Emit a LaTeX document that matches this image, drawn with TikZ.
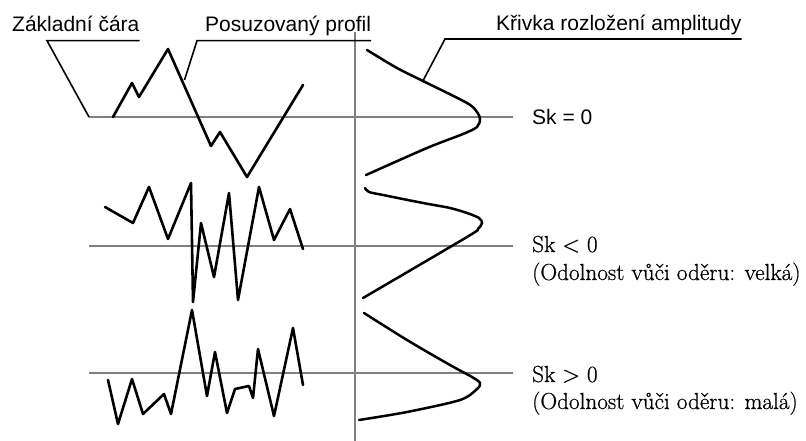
\documentclass[tikz,border=0pt]{standalone}
\usepackage{fontspec}
\newfontfamily\arialfont{Liberation Sans}
\newfontfamily\notefont[FakeBold=0.7]{Latin Modern Roman}
\usetikzlibrary{positioning}

\tikzset{
  axis/.style={draw=black!50, line width=2pt},
  profil/.style={line width=2.6pt, line join=round, line cap=round},
  amplcurve/.style={line width=2.5pt, line cap=round},
  leader/.style={line width=1.6pt},
  sanslbl/.style={font=\arialfont\fontsize{21}{24}\selectfont, inner sep=0pt, anchor=base west},
  seriflbl/.style={font=\notefont\fontsize{23.2}{26}\selectfont, inner sep=0pt, anchor=base west},
}

\begin{document}
\begin{tikzpicture}[x=1pt,y=-1pt]
\useasboundingbox (0,0) rectangle (806,441);
% axes: three base lines and the vertical axis of the curves
\draw[axis] (89,117) coordinate (bl1) -- (513,117) coordinate (br1);
\draw[axis] (89,246) coordinate (bl2) -- (513,246) coordinate (br2);
\draw[axis] (89,373) coordinate (bl3) -- (513,373) coordinate (br3);
\draw[axis] (355,32) coordinate (vtop) -- (355,441) coordinate (vbot);

% profiles
\draw[profil] (113,117) -- (132,83) -- (139,97) -- (168,49) -- (211,146) -- (220,132)
  -- (247,177) -- (303,85);
\draw[profil] (105,207) -- (133,223) -- (149,187) -- (168,239) -- (191,183) -- (193,302)
  -- (201,223) -- (214,277) -- (229,193) -- (238,300) -- (259,187) -- (274,240)
  -- (290,209) -- (303,249);
\draw[profil] (108,380) -- (118,424) -- (132,379) -- (143,414) -- (164,394) -- (171,414)
  -- (192,310) -- (207,396) -- (215,352) -- (227,413) -- (235,389) -- (249,386)
  -- (253,398) -- (258,349) -- (274,416) -- (293,328) -- (303,385);

% amplitude distribution curves
\draw[amplcurve] plot[smooth,tension=0.5] coordinates {(367,50) (397,68) (423,81)
  (467,103) (477,112) (480,119) (477,127) (463,134) (427,148) (366,175)};
\draw[amplcurve] plot[smooth,tension=0.5] coordinates {(365,188) (369,192) (383,195)
  (423,203) (450,208) (467,213) (479,218) (482,223) (478,229) (467,237) (363,298)};
\draw[amplcurve] plot[smooth,tension=0.5] coordinates {(364,313) (407,340) (450,365)
  (472,377) (480,383) (477,389) (460,400) (407,412) (359,420)};

% labels and leaders
\node[sanslbl] (zakl) at (12,31.5) {Základní čára};
\node[sanslbl] (posuz) at (205,31.5) {Posuzovaný profil};
\node[sanslbl] (krivka) at (496,30.5) {Křivka rozložení amplitudy};
\coordinate (zakl-c) at (47,40.7);
\coordinate (posuz-c) at (197,40.7);
\coordinate (posuz-t) at (184.5,80);
\coordinate (krivka-c) at (445,39);
\coordinate (krivka-t) at (423,80.7);
\draw[leader] (zakl.east |- zakl-c) -- (zakl-c) -- (bl1);
\draw[leader] (posuz.east |- posuz-c) -- (posuz-c) -- (posuz-t);
\draw[leader] (krivka.east |- krivka-c) -- (krivka-c) -- (krivka-t);

\node[sanslbl] (sk0) at (532,124.5) {Sk = 0};
\node[seriflbl] (skneg) at (532,252) {Sk < 0};
\node[seriflbl] (skneg-note) at (532,280) {(Odolnost vůči oděru: velká)};
\node[seriflbl] (skpos) at (532,382) {Sk > 0};
\node[seriflbl] (skpos-note) at (532,409) {(Odolnost vůči oděru: malá)};
\end{tikzpicture}
\end{document}
